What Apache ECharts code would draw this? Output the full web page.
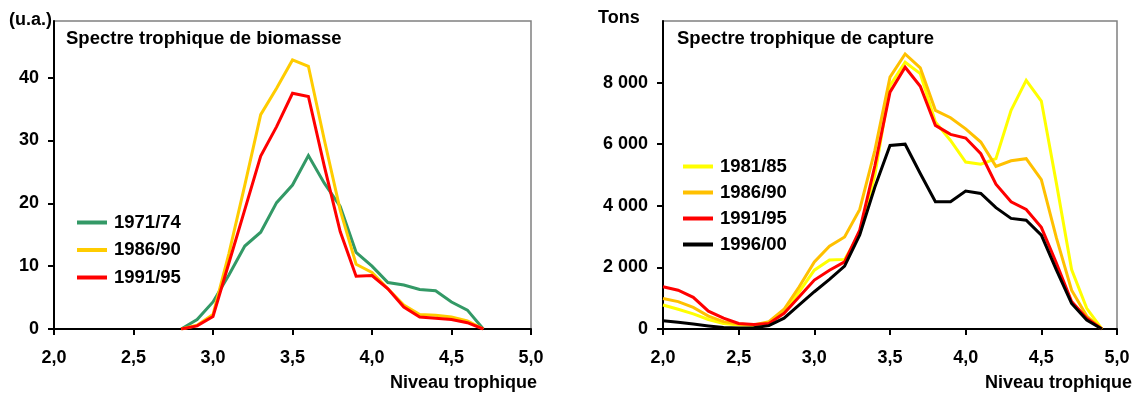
<!DOCTYPE html>
<html>
<head>
<meta charset="utf-8">
<script src="https://cdn.jsdelivr.net/npm/echarts@6/dist/echarts.min.js"></script>
<style>
  html, body { margin: 0; padding: 0; background: #fff; }
  #chart { width: 1139px; height: 394px; }
</style>
</head>
<body>
<div id="chart"></div>
<script>
// Spectre trophique de biomasse (u.a.)
const levelsBio = [2.8, 2.9, 3.0, 3.1, 3.2, 3.3, 3.4, 3.5, 3.6, 3.7, 3.8, 3.9, 4.0, 4.1, 4.2, 4.3, 4.4, 4.5, 4.6, 4.7];
const bio7174 = [0, 1.5, 4.3, 8.6, 13.2, 15.4, 20.1, 22.9, 27.6, 23.2, 19.5, 12.2, 10.0, 7.4, 7.0, 6.3, 6.1, 4.3, 3.0, 0];
const bio8690 = [0, 0.6, 2.3, 12.0, 22.9, 34.1, 38.3, 42.8, 41.8, 30.1, 18.9, 10.3, 9.0, 6.4, 3.8, 2.3, 2.2, 1.9, 1.3, 0];
const bio9195 = [0, 0.5, 2.0, 10.5, 19.0, 27.5, 32.2, 37.5, 37.0, 25.9, 15.5, 8.4, 8.5, 6.4, 3.5, 1.9, 1.7, 1.5, 1.0, 0];

// Spectre trophique de capture (Tons)
const levelsCap = [2.0, 2.1, 2.2, 2.3, 2.4, 2.5, 2.6, 2.7, 2.8, 2.9, 3.0, 3.1, 3.2, 3.3, 3.4, 3.5, 3.6, 3.7, 3.8, 3.9, 4.0, 4.1, 4.2, 4.3, 4.4, 4.5, 4.6, 4.7, 4.8, 4.9];
const cap8185 = [780, 640, 490, 310, 180, 130, 120, 200, 590, 1210, 1910, 2240, 2260, 3100, 5000, 7900, 8660, 8290, 6720, 6120, 5420, 5350, 5530, 7100, 8070, 7400, 4720, 1930, 670, 0];
const cap8690 = [990, 890, 700, 420, 240, 160, 130, 240, 640, 1370, 2180, 2690, 2990, 3880, 5800, 8180, 8930, 8480, 7100, 6860, 6500, 6070, 5280, 5460, 5530, 4850, 2950, 1260, 420, 0];
const cap9195 = [1370, 1260, 1030, 580, 350, 180, 150, 180, 510, 1050, 1590, 1910, 2180, 3210, 5300, 7690, 8500, 7880, 6610, 6320, 6200, 5690, 4700, 4130, 3880, 3300, 2130, 890, 350, 0];
const cap9600 = [270, 220, 160, 100, 50, 30, 40, 110, 350, 780, 1210, 1610, 2040, 3050, 4610, 5960, 6000, 5050, 4130, 4130, 4480, 4400, 3940, 3590, 3530, 3050, 1910, 830, 290, 0];

const xTicks = [2.0, 2.5, 3.0, 3.5, 4.0, 4.5, 5.0];
const yTicksBio = [0, 10, 20, 30, 40];
const yTicksCap = [0, 2000, 4000, 6000, 8000];

const FONT = 'Liberation Sans';
const txt = { fontFamily: FONT, fontWeight: 'bold', fontSize: 18, color: '#000' };
const titleTxt = { fontFamily: FONT, fontWeight: 'bold', fontSize: 18.5, color: '#000' };

const pairs = (xs, ys) => xs.map((x, i) => [x, ys[i]]);

function xAxisFor(gridIndex) {
  return {
    gridIndex: gridIndex,
    type: 'value',
    min: 2,
    max: 5,
    interval: 0.5,
    axisLine: { onZero: false, lineStyle: { color: '#000', width: 2 } },
    axisTick: { show: true, length: 6, lineStyle: { color: '#000', width: 2 }, customValues: xTicks },
    axisLabel: {
      customValues: xTicks,
      margin: 20,
      fontFamily: FONT, fontWeight: 'bold', fontSize: 18, color: '#000',
      formatter: v => v.toFixed(1).replace('.', ',')
    },
    splitLine: { show: false }
  };
}

function yAxisFor(gridIndex, max, interval, ticks, fmt) {
  return {
    gridIndex: gridIndex,
    type: 'value',
    min: 0,
    max: max,
    interval: interval,
    axisLine: { show: true, lineStyle: { color: '#000', width: 2 } },
    axisTick: { show: true, length: 6, lineStyle: { color: '#000', width: 2 }, customValues: ticks },
    axisLabel: {
      customValues: ticks,
      margin: 15,
      fontFamily: FONT, fontWeight: 'bold', fontSize: 18, color: '#000',
      formatter: fmt
    },
    splitLine: { show: false }
  };
}

function line(name, xs, ys, color, idx) {
  return {
    name: name,
    type: 'line',
    xAxisIndex: idx,
    yAxisIndex: idx,
    data: pairs(xs, ys),
    symbol: 'none',
    lineStyle: { color: color, width: 3, join: 'miter' },
    itemStyle: { color: color },
    animation: false
  };
}

const myChart = echarts.init(document.getElementById('chart'));
myChart.setOption({
  backgroundColor: '#fff',
  animation: false,
  title: [
    { text: 'Spectre trophique de biomasse', left: 66, top: 29, padding: 0, textStyle: titleTxt },
    { text: 'Spectre trophique de capture', left: 677, top: 29, padding: 0, textStyle: titleTxt },
    { text: '(u.a.)', left: 9, top: 11, padding: 0, textStyle: txt },
    { text: 'Tons', left: 598, top: 9, padding: 0, textStyle: txt },
    { text: 'Niveau trophique', right: 602, top: 374, padding: 0, textStyle: txt },
    { text: 'Niveau trophique', right: 7, top: 374, padding: 0, textStyle: txt }
  ],
  legend: [
    {
      data: ['1971/74', '1986/90 ', '1991/95 '],
      orient: 'vertical',
      left: 77,
      top: 213,
      padding: 0,
      itemGap: 8.5,
      itemWidth: 30,
      itemHeight: 4,
      icon: 'rect',
      textStyle: { fontFamily: FONT, fontWeight: 'bold', fontSize: 18.5, color: '#000', padding: [0, 0, 0, 2] }
    },
    {
      data: ['1981/85', '1986/90', '1991/95', '1996/00'],
      orient: 'vertical',
      left: 683,
      top: 157,
      padding: 0,
      itemGap: 7,
      itemWidth: 30,
      itemHeight: 4,
      icon: 'rect',
      textStyle: { fontFamily: FONT, fontWeight: 'bold', fontSize: 18.5, color: '#000', padding: [0, 0, 0, 2] }
    }
  ],
  grid: [
    { left: 54, top: 21, width: 477, height: 308, show: true, borderColor: '#808080', borderWidth: 1.5, backgroundColor: 'transparent' },
    { left: 663, top: 21, width: 454, height: 308, show: true, borderColor: '#808080', borderWidth: 1.5, backgroundColor: 'transparent' }
  ],
  xAxis: [xAxisFor(0), xAxisFor(1)],
  yAxis: [
    yAxisFor(0, 49, 10, yTicksBio, v => String(v)),
    yAxisFor(1, 10000, 2000, yTicksCap, v => String(v).replace(/\B(?=(\d{3})+(?!\d))/g, ' '))
  ],
  series: [
    line('1971/74', levelsBio, bio7174, '#339966', 0),
    line('1986/90 ', levelsBio, bio8690, '#FFCC00', 0),
    line('1991/95 ', levelsBio, bio9195, '#FF0000', 0),
    line('1981/85', levelsCap, cap8185, '#FFFF00', 1),
    line('1986/90', levelsCap, cap8690, '#FFC000', 1),
    line('1991/95', levelsCap, cap9195, '#FF0000', 1),
    line('1996/00', levelsCap, cap9600, '#000000', 1)
  ]
});
</script>
</body>
</html>
